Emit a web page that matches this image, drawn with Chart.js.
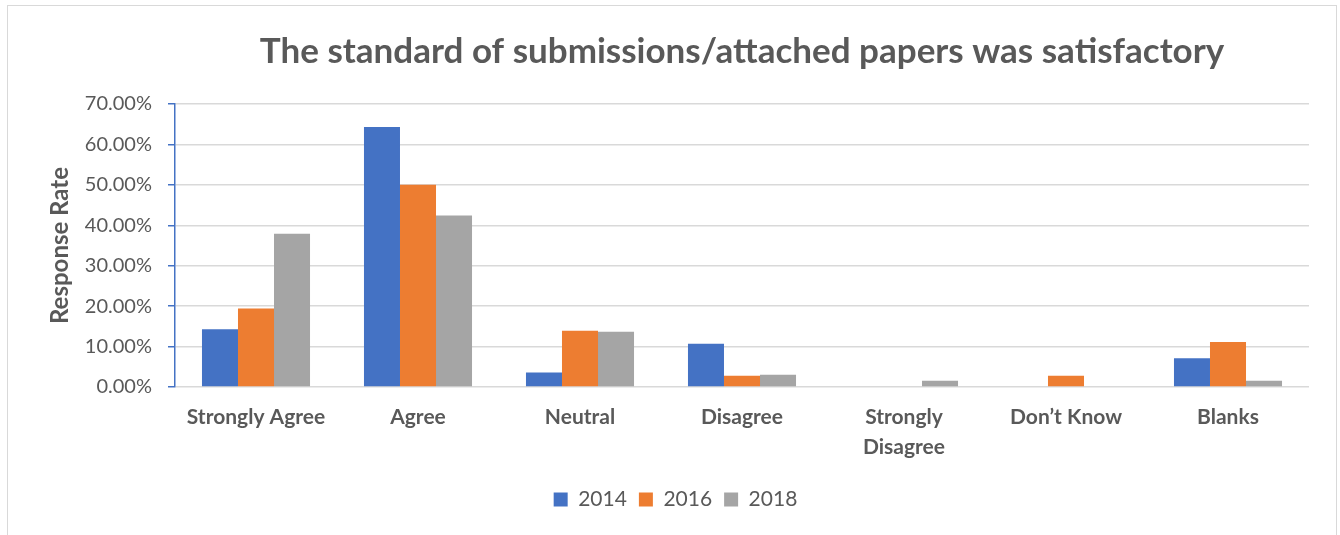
<!DOCTYPE html>
<html>
<head>
<meta charset="utf-8">
<script src="https://cdn.jsdelivr.net/npm/chart.js@4/dist/chart.umd.min.js"></script>
<style>
body{margin:0;background:#fff;overflow:hidden}
#frame{position:absolute;left:7px;top:5px;width:1330px;height:560px;border:1px solid #d9d9d9;box-sizing:border-box}
#mainChart{position:absolute;left:0;top:0}
</style>
</head>
<body>
<div id="frame"></div>
<canvas id="mainChart" width="1340" height="535"></canvas>
<script>

const categories=["Strongly Agree","Agree","Neutral","Disagree",["Strongly","Disagree"],"Don\u2019t Know","Blanks"]
const years=["2014","2016","2018"]
const values2014=[14.29,64.29,3.57,10.71,0,0,7.14]
const values2016=[19.44,50.00,13.89,2.78,0,2.78,11.11]
const values2018=[37.88,42.42,13.64,3.03,1.52,0,1.52]
const yTicks=[0,10,20,30,40,50,60,70]

const colors=["#4472C4","#ED7D31","#A5A5A5"]
const textColor="#595959"
const font="Lato"

const ctx=document.getElementById("mainChart")

new Chart(ctx,{
type:"bar",
data:{
labels:categories,
datasets:[values2014,values2016,values2018].map((v,i)=>({
label:years[i],
data:v,
backgroundColor:colors[i],
borderWidth:0,
categoryPercentage:0.667,
barPercentage:1
}))
},
options:{
responsive:false,
animation:false,
layout:{padding:{left:42,right:31,top:18,bottom:15}},
plugins:{
title:{
display:true,
text:"The standard of submissions/attached papers was satisfactory",
fullSize:false,
color:textColor,
font:{family:font,size:35,weight:"bold"},
padding:{top:13,bottom:31}
},
legend:{
position:"bottom",
labels:{
color:textColor,
font:{family:font,size:21},
boxWidth:14,
boxHeight:14,
padding:12
}
},
tooltip:{enabled:false}
},
scales:{
x:{
grid:{display:false},
border:{display:false},
ticks:{
color:textColor,
font:{family:font,size:21,weight:"bold",lineHeight:1.43},
padding:7,
maxRotation:0,
autoSkip:false
},
afterFit:s=>{s.height=90}
},
y:{
min:0,
max:70,
afterBuildTicks:s=>{s.ticks=yTicks.map(v=>({value:v}))},
grid:{color:"#d9d9d9",lineWidth:1.5,tickColor:"#4472C4",tickLength:7},
border:{color:"#4472C4",width:1.5},
ticks:{
color:textColor,
font:{family:font,size:20},
padding:16,
callback:v=>v.toFixed(2)+"%"
},
title:{
display:true,
text:"Response Rate",
color:textColor,
font:{family:font,size:24,weight:"bold"},
padding:{bottom:10}
},
afterFit:s=>{s.width=133}
}
}
}
})

</script>
</body>
</html>
